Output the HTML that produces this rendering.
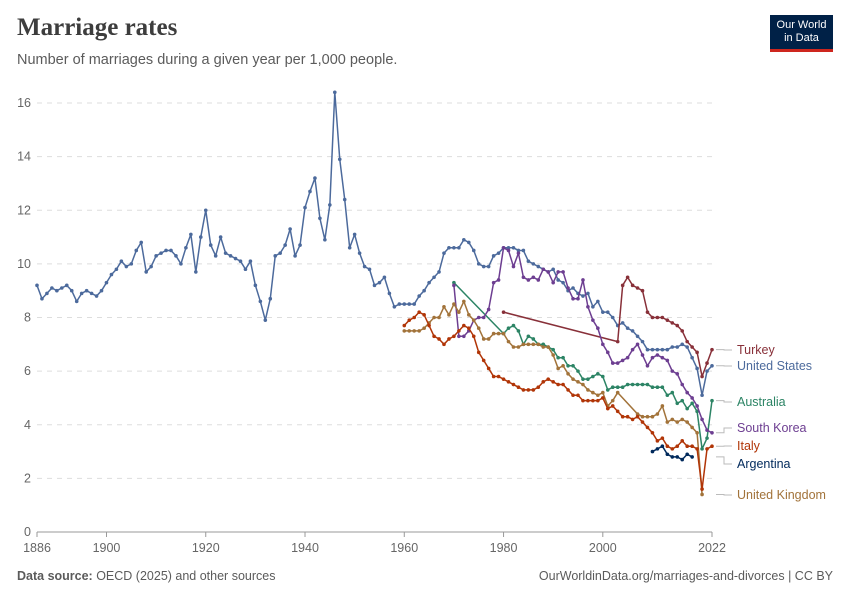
<!DOCTYPE html>
<html><head><meta charset="utf-8">
<style>
body{margin:0;background:#fff;font-family:"Liberation Sans",sans-serif;}
#wrap{position:relative;width:850px;height:600px;overflow:hidden;}
.title{position:absolute;left:17px;top:14px;font-family:"Liberation Serif",serif;font-weight:bold;font-size:25px;color:#3d3d3d;}
.sub{position:absolute;left:17px;top:52px;font-size:14.5px;color:#5b5b5b;}
.logo{position:absolute;left:770px;top:15px;width:63px;height:37px;background:#002147;border-bottom:3px solid #ce261e;color:#fff;font-size:11px;text-align:center;line-height:13px;padding-top:4px;box-sizing:border-box;}
.foot{position:absolute;top:569px;font-size:12.5px;color:#5b5b5b;}
</style></head><body>
<div id="wrap">
<div class="title">Marriage rates</div>
<div class="sub">Number of marriages during a given year per 1,000 people.</div>
<div class="logo">Our World<br>in Data</div>
<svg id="chart" width="850" height="600" style="position:absolute;left:0;top:0"></svg>
<div class="foot" style="left:17px"><b>Data source:</b> OECD (2025) and other sources</div>
<div class="foot" style="right:17px">OurWorldinData.org/marriages-and-divorces | CC BY</div>
</div>
<script>
const usYears=[];for(let y=1886;y<=2022;y++)usYears.push(y);
const usValues=[9.2,8.7,8.9,9.1,9.0,9.1,9.2,9.0,8.6,8.9,9.0,8.9,8.8,9.0,9.3,9.6,9.8,10.1,9.9,10.0,10.5,10.8,9.7,9.9,10.3,10.4,10.5,10.5,10.3,10.0,10.6,11.1,9.7,11.0,12.0,10.7,10.3,11.0,10.4,10.3,10.2,10.1,9.8,10.1,9.2,8.6,7.9,8.7,10.3,10.4,10.7,11.3,10.3,10.7,12.1,12.7,13.2,11.7,10.9,12.2,16.4,13.9,12.4,10.6,11.1,10.4,9.9,9.8,9.2,9.3,9.5,8.9,8.4,8.5,8.5,8.5,8.5,8.8,9.0,9.3,9.5,9.7,10.4,10.6,10.6,10.6,10.9,10.8,10.5,10.0,9.9,9.9,10.3,10.4,10.6,10.6,10.6,10.5,10.5,10.1,10.0,9.9,9.8,9.7,9.8,9.4,9.3,9.0,9.1,8.9,8.8,8.9,8.4,8.6,8.2,8.2,8.0,7.7,7.8,7.6,7.5,7.3,7.1,6.8,6.8,6.8,6.8,6.8,6.9,6.9,7.0,6.9,6.5,6.1,5.1,6.0,6.2];
const itYears=[];for(let y=1960;y<=2022;y++)itYears.push(y);
const itValues=[7.7,7.9,8.0,8.2,8.1,7.7,7.3,7.2,7.0,7.2,7.3,7.5,7.7,7.6,7.3,6.7,6.4,6.1,5.8,5.8,5.7,5.6,5.5,5.4,5.3,5.3,5.3,5.4,5.6,5.7,5.6,5.5,5.5,5.3,5.1,5.1,4.9,4.9,4.9,4.9,5.0,4.6,4.7,4.5,4.3,4.3,4.2,4.3,4.1,3.9,3.7,3.4,3.5,3.2,3.1,3.2,3.4,3.2,3.2,3.1,1.6,3.1,3.2];
const ukYears=[1960,1961,1962,1963,1964,1965,1966,1967,1968,1969,1970,1971,1972,1973,1974,1975,1976,1977,1978,1979,1980,1981,1982,1983,1984,1985,1986,1987,1988,1989,1990,1991,1992,1993,1994,1995,1996,1997,1998,1999,2000,2001,2002,2003,2007,2008,2009,2010,2011,2012,2013,2014,2015,2016,2017,2018,2019,2020];
const ukValues=[7.5,7.5,7.5,7.5,7.6,7.8,8.0,8.0,8.4,8.1,8.5,8.2,8.6,8.1,7.9,7.6,7.2,7.2,7.4,7.4,7.4,7.1,6.9,6.9,7.0,7.0,7.0,7.0,6.9,6.9,6.6,6.1,6.2,5.9,5.7,5.6,5.5,5.3,5.2,5.1,5.2,4.7,4.9,5.2,4.4,4.3,4.3,4.3,4.4,4.7,4.1,4.2,4.1,4.2,4.1,3.9,3.7,1.4];
const auYears=[1970,1980,1981,1982,1983,1984,1985,1986,1987,1988,1989,1990,1991,1992,1993,1994,1995,1996,1997,1998,1999,2000,2001,2002,2003,2004,2005,2006,2007,2008,2009,2010,2011,2012,2013,2014,2015,2016,2017,2018,2019,2020,2021,2022];
const auValues=[9.3,7.4,7.6,7.7,7.5,7.0,7.3,7.2,7.0,7.0,6.9,6.8,6.5,6.5,6.2,6.2,6.0,5.7,5.7,5.8,5.9,5.8,5.3,5.4,5.4,5.4,5.5,5.5,5.5,5.5,5.5,5.4,5.4,5.4,5.1,5.2,4.8,4.9,4.6,4.8,4.5,3.1,3.5,4.9];
const krYears=[];for(let y=1970;y<=2022;y++)krYears.push(y);
const krValues=[9.2,7.3,7.3,7.5,7.9,8.0,8.0,8.3,9.3,9.4,10.6,10.5,9.9,10.4,9.5,9.4,9.5,9.4,9.8,9.7,9.3,9.7,9.7,9.1,8.7,8.7,9.4,8.4,7.9,7.6,7.0,6.7,6.3,6.3,6.4,6.5,6.8,7.0,6.6,6.2,6.5,6.6,6.5,6.4,6.0,5.9,5.5,5.2,5.0,4.7,4.2,3.8,3.7];
const trYears=[1980,2003,2004,2005,2006,2007,2008,2009,2010,2011,2012,2013,2014,2015,2016,2017,2018,2019,2020,2021,2022];
const trValues=[8.2,7.1,9.2,9.5,9.2,9.1,9.0,8.2,8.0,8.0,8.0,7.9,7.8,7.7,7.5,7.1,6.9,6.7,5.8,6.3,6.8];
const arYears=[2010,2011,2012,2013,2014,2015,2016,2017,2018];
const arValues=[3.0,3.1,3.2,2.9,2.8,2.8,2.7,2.9,2.8];
const xTicks=[1886,1900,1920,1940,1960,1980,2000,2022];
const yTicks=[0,2,4,6,8,10,12,14,16];

const svg=document.getElementById('chart');const NS='http://www.w3.org/2000/svg';
const X=y=>37+(y-1886)*(712-37)/136;
const Y=v=>532-v*(532-103)/16;
function mk(t,a){const e=document.createElementNS(NS,t);for(const k in a)e.setAttribute(k,a[k]);svg.appendChild(e);return e;}
yTicks.forEach(v=>{
  if(v>0){const g=mk('line',{x1:37,x2:712,y1:Y(v),y2:Y(v),stroke:'#ddd','stroke-dasharray':'5,5'});
  
  }
  const t=mk('text',{x:31,y:Y(v)+4,'text-anchor':'end','font-size':12.5,fill:'#666','font-family':'Liberation Sans'});t.textContent=v;
  
  
});
const ax=mk('line',{x1:37,x2:712,y1:532,y2:532,stroke:'#999'});


xTicks.forEach(v=>{
  const tk=mk('line',{x1:X(v),x2:X(v),y1:532,y2:537,stroke:'#999'});
  
  
  const t=mk('text',{x:X(v),y:552,'text-anchor':'middle','font-size':12.5,fill:'#666','font-family':'Liberation Sans'});t.textContent=v;
  
  
});
const series=[
 ['united-states',usYears,usValues,'#4c6a9c'],
 ['turkey',trYears,trValues,'#883039'],
 ['australia',auYears,auValues,'#2c8465'],
 ['south-korea',krYears,krValues,'#6d3e91'],
 ['united-kingdom',ukYears,ukValues,'#a2733a'],
 ['italy',itYears,itValues,'#b13507'],
 ['argentina',arYears,arValues,'#00295b']];
series.forEach(([n,xs,vs,c])=>{
  const p=mk('polyline',{points:xs.map((x,i)=>X(x)+','+Y(vs[i])).join(' '),fill:'none',stroke:c,'stroke-width':1.5,'stroke-linejoin':'round'});
  
  
  xs.forEach((x,i)=>{const d=mk('circle',{cx:X(x),cy:Y(vs[i]),r:1.8,fill:c});
    
    });
});
const labels=[['Turkey',350,'#883039',6.8],['United States',366,'#4c6a9c',6.2],['Australia',402,'#2c8465',4.9],['South Korea',428,'#6d3e91',3.7],['Italy',446,'#b13507',3.2],['Argentina',464,'#00295b',2.8],['United Kingdom',495,'#a2733a',1.4]];
labels.forEach(([n,y,c,v])=>{
  const l=mk('polyline',{points:`716,${Y(v)} 724,${Y(v)} 724,${y} 732,${y}`,fill:'none',stroke:'#bbb'});
  
  
  const t=mk('text',{x:737,y:y+4,'font-size':12.5,fill:c,'font-family':'Liberation Sans'});t.textContent=n;
  
  
});
</script>
</body></html>
